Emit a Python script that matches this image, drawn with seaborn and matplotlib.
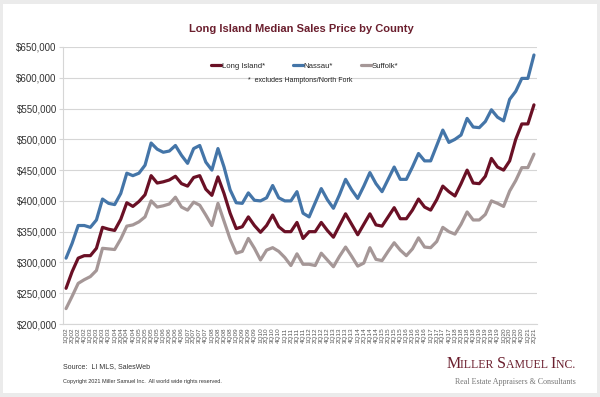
import numpy as np
import pandas as pd
import matplotlib
matplotlib.use('Agg')
import matplotlib.pyplot as plt
import seaborn as sns
from matplotlib.patches import Rectangle
from matplotlib.ticker import StrMethodFormatter, MultipleLocator
from matplotlib.offsetbox import TextArea, HPacker, AnnotationBbox

# quarters 1Q02 .. 2Q21
quarters = [f'{q}Q{y:02d}' for y in range(2, 22) for q in range(1, 5)][:78]

# median sales price, $000
long_island = [258, 285, 307, 311, 311, 323, 357, 354, 352, 370,
               397, 391, 399, 410, 441, 429, 431, 434, 440, 428,
               424, 438, 441, 419, 409, 439, 412, 380, 355, 358,
               374, 360, 349, 360, 377, 358, 350, 350, 365, 339,
               350, 350, 365, 352, 341, 360, 379, 362, 345, 362,
               379, 361, 359, 374, 389, 371, 371, 385, 403, 390,
               385, 402, 424, 415, 408, 428, 450, 429, 428, 440,
               469, 455, 450, 465, 500, 525, 525, 556]
nassau = [307, 331, 360, 360, 357, 369, 403, 396, 394, 412,
          445, 441, 445, 458, 494, 484, 479, 481, 490, 474,
          461, 485, 490, 463, 450, 485, 455, 418, 397, 396,
          413, 401, 400, 405, 425, 405, 400, 400, 415, 380,
          374, 397, 420, 402, 388, 410, 435, 418, 404, 424,
          446, 428, 415, 435, 455, 435, 435, 455, 477, 465,
          465, 490, 515, 495, 500, 507, 534, 520, 519, 529,
          548, 536, 530, 565, 578, 599, 599, 637]
suffolk = [225, 245, 266, 272, 277, 287, 323, 322, 321, 338,
           359, 361, 366, 374, 400, 390, 392, 395, 406, 390,
           385, 398, 393, 377, 360, 396, 367, 338, 315, 318,
           339, 323, 304, 320, 324, 318, 308, 295, 314, 297,
           297, 295, 315, 304, 293, 310, 325, 310, 294, 299,
           324, 305, 303, 318, 332, 320, 311, 322, 340, 325,
           324, 334, 357, 350, 346, 362, 382, 369, 369, 378,
           400, 396, 391, 416, 433, 454, 454, 476]

colors = {'Long Island*': '#6a1025', 'Nassau*': '#4475a8', 'Suffolk*': '#a59797'}

df = pd.DataFrame({'Long Island*': long_island, 'Nassau*': nassau, 'Suffolk*': suffolk},
                  index=quarters) * 1000
df = df.reset_index(names='quarter').melt(id_vars='quarter', var_name='series', value_name='price')

sns.set_style('white')
plt.rcParams['font.family'] = ['Liberation Sans', 'DejaVu Sans']

fig = plt.figure(figsize=(6, 3.97), dpi=100)
fig.patch.set_facecolor('#ebebeb')
fig.add_artist(Rectangle((3/600, 4/397), 594/600, 389/397, transform=fig.transFigure,
                         facecolor='white', edgecolor='none', zorder=-1))

ax = fig.add_axes([63/600, 1 - 324/397, 474/600, 277/397])
sns.lineplot(data=df, x='quarter', y='price', hue='series', palette=colors,
             linewidth=2.3, sort=False, ax=ax)

ax.set_xlim(-0.5, 77.5)
ax.set_ylim(200000, 650000)
ax.yaxis.set_major_locator(MultipleLocator(50000))
ax.yaxis.set_major_formatter(StrMethodFormatter('${x:,.0f}'))
ax.set_xticks(range(len(quarters)))
ax.set_xticklabels(quarters, rotation=90)
ax.set_xticks(np.arange(-0.5, 78, 1), minor=True)
ax.set_xlabel('')
ax.set_ylabel('')

ax.yaxis.grid(True, color='#d6d6d6', linewidth=0.8)
ax.set_axisbelow(True)
for s in ['top', 'right']:
    ax.spines[s].set_visible(False)
for s in ['left', 'bottom']:
    ax.spines[s].set_color('#d6d6d6')
    ax.spines[s].set_linewidth(0.8)

ax.tick_params(axis='y', length=3, color='#d6d6d6', labelsize=7, labelcolor='#333333', pad=1.5)
ax.tick_params(axis='x', which='major', length=0, labelsize=4.6, labelcolor='#555555', pad=2.5)
ax.tick_params(axis='x', which='minor', length=2, color='#d6d6d6', width=0.6)
ax.tick_params(left=True, bottom=True)

sns.move_legend(ax, 'center', bbox_to_anchor=(0.51, (324 - 66) / 277), ncol=3, frameon=False,
                title=None, fontsize=5.6, handlelength=1.3, handletextpad=0.1, columnspacing=3.6)

fig.text(0.502, 1 - 29/397, 'Long Island Median Sales Price by County', ha='center', va='center',
         fontsize=8, fontweight='bold', color='#6b1f2e')
fig.text(0.5, 1 - 80/397, '*  excludes Hamptons/North Fork', ha='center', va='center',
         fontsize=5, color='#222222')

fig.text(63/600, 1 - 367/397, 'Source:  LI MLS, SalesWeb', ha='left', va='center',
         fontsize=5, color='#333333')
fig.text(63/600, 1 - 381/397, 'Copyright 2021 Miller Samuel Inc.  All world wide rights reserved.',
         ha='left', va='center', fontsize=4, color='#333333')

# small-caps logo
maroon = '#6b1f2e'
parts = []
for word in ['Miller', 'Samuel', 'Inc.']:
    parts.append(TextArea(word[0], textprops=dict(family='Liberation Serif', size=11.5, color=maroon)))
    parts.append(TextArea(word[1:].upper() + ' ', textprops=dict(family='Liberation Serif', size=8.5, color=maroon)))
logo = HPacker(children=parts, align='baseline', pad=0, sep=0)
fig.add_artist(AnnotationBbox(logo, (578/600, 1 - 364/397), xycoords='figure fraction',
                              frameon=False, box_alignment=(1, 0.5)))
fig.text(576/600, 1 - 382/397, 'Real Estate Appraisers & Consultants', ha='right', va='center',
         family='Liberation Serif', fontsize=5.8, color='#777777')

fig.savefig('out.png', dpi=100, facecolor=fig.get_facecolor())
